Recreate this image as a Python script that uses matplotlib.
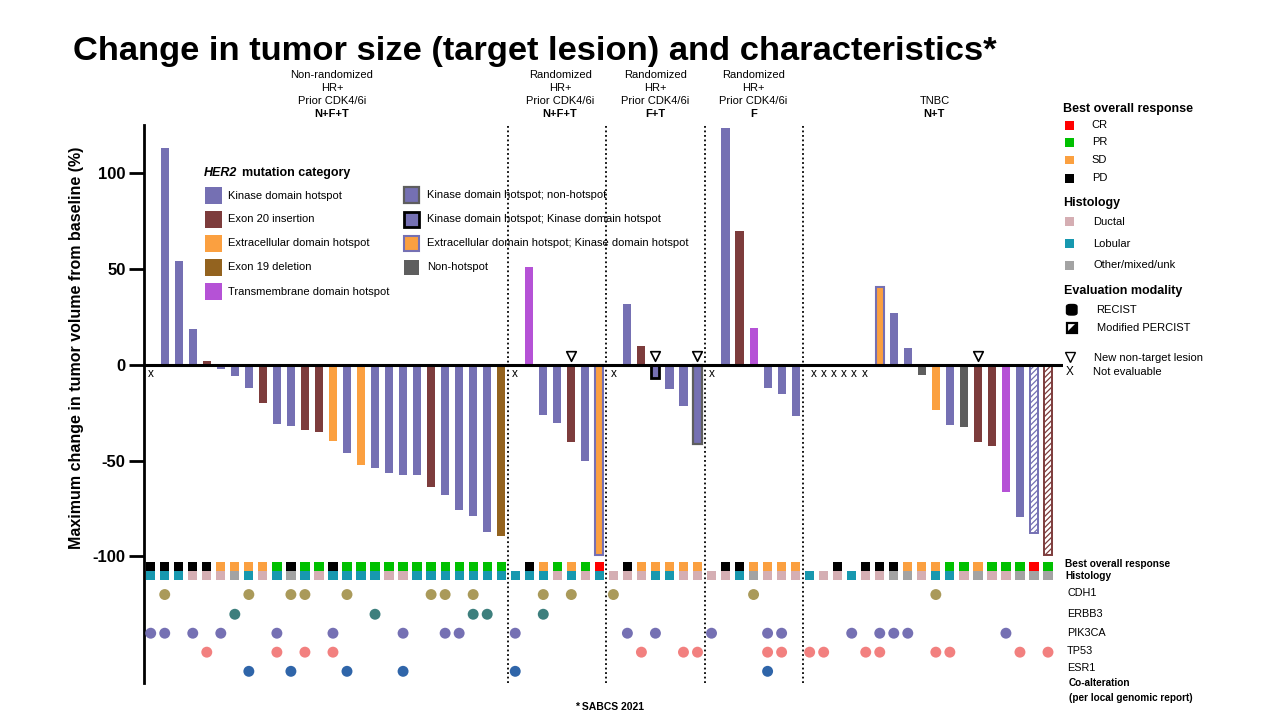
import numpy as np
import matplotlib
matplotlib.use('Agg')
import matplotlib.pyplot as plt
import matplotlib.transforms as mtransforms
from matplotlib.patches import Rectangle, Polygon, FancyBboxPatch
from matplotlib.lines import Line2D

plt.rcParams['font.family'] = ['Liberation Sans', 'DejaVu Sans']
plt.rcParams['hatch.linewidth'] = 0.9
NARROW = ['Liberation Sans Narrow', 'Liberation Sans', 'DejaVu Sans']

W, H = 1280, 720

# ---------------- data ----------------
group_sizes = [26, 7, 7, 7, 18]
group_headers = [
    ["Non-randomized", "HR+", "Prior CDK4/6i", "N+F+T"],
    ["Randomized", "HR+", "Prior CDK4/6i", "N+F+T"],
    ["Randomized", "HR+", "Prior CDK4/6i", "F+T"],
    ["Randomized", "HR+", "Prior CDK4/6i", "F"],
    ["TNBC", "N+T"],
]
nan = np.nan
change_g1 = [nan, 113.3, 54.3, 18.7, 2.0, -2.0, -6.0, -12.0, -20.0, -31.0, -32.0, -34.0, -35.0,
             -39.5, -46.0, -52.0, -54.0, -56.5, -57.5, -57.5, -63.5, -68.0, -75.5, -79.0, -87.5, -89.5]
change_g2 = [nan, 50.9, -26.4, -30.4, -40.3, -50.0, -99.5]
change_g3 = [nan, 31.8, 9.9, -6.6, -12.8, -21.7, -41.3]
change_g4 = [nan, 123.5, 70.0, 19.3, -11.8, -15.0, -26.9]
change_g5 = [nan, nan, nan, nan, nan, 40.5, 27.0, 8.9, -5.0, -23.3, -31.6, -32.6, -40.0, -42.5,
             -66.5, -79.5, -87.7, -99.5]
change = change_g1 + change_g2 + change_g3 + change_g4 + change_g5

category_g1 = ['', 'KD', 'KD', 'KD', 'E20', 'KD', 'KD', 'KD', 'E20', 'KD', 'KD', 'E20', 'E20',
               'ECD', 'KD', 'ECD', 'KD', 'KD', 'KD', 'KD', 'E20', 'KD', 'KD', 'KD', 'KD', 'E19']
category_g2 = ['', 'TM', 'KD', 'KD', 'E20', 'KD', 'ECD;KD']
category_g3 = ['', 'KD', 'E20', 'KD;KD', 'KD', 'KD', 'KD;NH']
category_g4 = ['', 'KD', 'E20', 'TM', 'KD', 'KD', 'KD']
category_g5 = ['', '', '', '', '', 'ECD;KD', 'KD', 'KD', 'NH', 'ECD', 'KD', 'NH', 'E20', 'E20',
               'TM', 'KD', 'KD', 'E20']
category = category_g1 + category_g2 + category_g3 + category_g4 + category_g5

percist_patients = [63, 64]          # Modified PERCIST evaluation (hatched)
new_lesion_patients = [30, 36, 39, 59]

response_g1 = ['PD', 'PD', 'PD', 'PD', 'PD', 'SD', 'SD', 'SD', 'SD', 'PR', 'PD', 'PR', 'PR', 'PD',
               'PR', 'PR', 'PR', 'PR', 'PR', 'PR', 'PR', 'PR', 'PR', 'PR', 'PR', 'PR']
response_g2 = ['', 'PD', 'SD', 'PR', 'SD', 'PR', 'CR']
response_g3 = ['', 'PD', 'SD', 'SD', 'SD', 'SD', 'SD']
response_g4 = ['', 'PD', 'PD', 'SD', 'SD', 'SD', 'SD']
response_g5 = ['', '', 'PD', '', 'PD', 'PD', 'PD', 'SD', 'SD', 'SD', 'PR', 'PR', 'SD', 'PR', 'PR',
               'PR', 'CR', 'PR']
response = response_g1 + response_g2 + response_g3 + response_g4 + response_g5

histology_g1 = ['L', 'L', 'L', 'D', 'D', 'D', 'O', 'L', 'D', 'L', 'O', 'L', 'D', 'L', 'L', 'L',
                'L', 'D', 'D', 'L', 'L', 'L', 'L', 'L', 'L', 'L']
histology_g2 = ['L', 'L', 'L', 'D', 'L', 'D', 'L']
histology_g3 = ['D', 'D', 'D', 'L', 'L', 'D', 'D']
histology_g4 = ['D', 'D', 'L', 'O', 'D', 'D', 'D']
histology_g5 = ['L', 'D', 'D', 'L', 'D', 'D', 'O', 'O', 'D', 'L', 'L', 'D', 'O', 'D', 'D', 'O',
                'O', 'O']
histology = histology_g1 + histology_g2 + histology_g3 + histology_g4 + histology_g5

genes = ['CDH1', 'ERBB3', 'PIK3CA', 'TP53', 'ESR1']
cdh1_patients = [1, 7, 10, 11, 14, 20, 21, 23, 28, 30, 33, 43, 56]
erbb3_patients = [6, 16, 23, 24, 28]
pik3ca_patients = [0, 1, 3, 5, 9, 13, 18, 21, 22, 26, 34, 36, 40, 44, 45, 50, 52, 53, 54, 61]
tp53_patients = [4, 9, 11, 13, 35, 38, 39, 44, 45, 47, 48, 51, 52, 56, 57, 62, 64]
esr1_patients = [7, 10, 14, 18, 26, 44]
gene_patients = [cdh1_patients, erbb3_patients, pik3ca_patients, tp53_patients, esr1_patients]

# ---------------- styles ----------------
PURPLE = '#7570B3'
BROWN = '#7D3C3C'
ORANGE = '#FBA040'
E19C = '#93631F'
TMC = '#B552D6'
GRAY = '#5E5E5E'
cat_style = {
    'KD': (PURPLE, 'none', 0),
    'E20': (BROWN, 'none', 0),
    'ECD': (ORANGE, 'none', 0),
    'E19': (E19C, 'none', 0),
    'TM': (TMC, 'none', 0),
    'KD;NH': (PURPLE, GRAY, 1.6),
    'KD;KD': (PURPLE, 'black', 2.0),
    'ECD;KD': (ORANGE, PURPLE, 1.5),
    'NH': (GRAY, 'none', 0),
}
cat_names = {
    'KD': 'Kinase domain hotspot', 'E20': 'Exon 20 insertion', 'ECD': 'Extracellular domain hotspot',
    'E19': 'Exon 19 deletion', 'TM': 'Transmembrane domain hotspot',
    'KD;NH': 'Kinase domain hotspot; non-hotspot', 'KD;KD': 'Kinase domain hotspot; Kinase domain hotspot',
    'ECD;KD': 'Extracellular domain hotspot; Kinase domain hotspot', 'NH': 'Non-hotspot',
}
resp_colors = {'CR': '#FF0000', 'PR': '#00C000', 'SD': ORANGE, 'PD': '#000000'}
resp_names = {'CR': 'CR', 'PR': 'PR', 'SD': 'SD', 'PD': 'PD'}
hist_colors = {'D': '#D5AEB3', 'L': '#1798AF', 'O': '#A3A3A3'}
hist_names = {'D': 'Ductal', 'L': 'Lobular', 'O': 'Other/mixed/unk'}
gene_colors = ['#AA9A5A', '#3D7F7D', '#7570B3', '#F2807F', '#2F65A9']

# ---------------- figure ----------------
fig = plt.figure(figsize=(12.8, 7.2), dpi=100)
ax = fig.add_axes([143.5 / W, 1 - 683 / H, (1063 - 143.5) / W, (683 - 125) / H])
n = len(change)
ax.set_xlim(-0.514, 65.07)
ax.set_ylim(-166.1, 125.3)
for s in ['top', 'right', 'bottom']:
    ax.spines[s].set_visible(False)
ax.spines['left'].set_linewidth(2)
ax.set_xticks([])
ax.set_yticks([-100, -50, 0, 50, 100])
ax.set_yticklabels(['-100', '-50', '0', '50', '100'], fontweight='bold')
ax.tick_params(axis='y', length=11, width=2, labelsize=12, pad=2)

BW = 0.58
for i in range(n):
    v = change[i]
    if np.isnan(v):
        continue
    face, edge, lw = cat_style[category[i]]
    if i in percist_patients:
        ax.bar(i, v, width=BW, facecolor='white', edgecolor=face, hatch='//////', linewidth=1.4, zorder=3)
    else:
        ax.bar(i, v, width=BW, color=face, edgecolor=edge, linewidth=lw, zorder=3)

ax.axhline(0, color='black', lw=2.2, zorder=5)

# separators
bounds = np.cumsum(group_sizes)[:-1]
for b in bounds:
    ax.axvline(b - 0.5, color='black', lw=1.3, ls=(0, (1.0, 1.5)), zorder=2)

# not evaluable markers
starts = np.concatenate([[0], bounds])
for st in starts[:4]:
    ax.text(st, -4.7, 'x', ha='center', va='center', fontsize=8.5, zorder=6)
for k in range(6):
    ax.text(47.27 + k * 0.727, -4.7, 'x', ha='center', va='center', fontsize=8.5, zorder=6)

# new lesion triangles
ax.scatter(new_lesion_patients, [4.8] * len(new_lesion_patients), marker='v', s=48,
           facecolor='white', edgecolor='black', linewidth=1.2, zorder=6)

# response & histology rows
SW = 0.66
for i in range(n):
    if response[i]:
        ax.bar(i, 4.9, bottom=-107.6, width=SW, color=resp_colors[response[i]], zorder=3)
    ax.bar(i, 4.7, bottom=-112.3, width=SW, color=hist_colors[histology[i]], zorder=3)

# co-alteration dots
row_y = [-119.9, -130.2, -140.1, -150.0, -160.0]
for pts, yv, c in zip(gene_patients, row_y, gene_colors):
    ax.scatter(pts, [yv] * len(pts), s=62, color=c, edgecolor='none', zorder=4)

# group headers
hdr_tr = mtransforms.blended_transform_factory(ax.transData, fig.transFigure)
header_x = [12.93, 29.2, 36.0, 43.0, 55.9]
line_y = [75, 88, 101, 114]
for hx, lines in zip(header_x, group_headers):
    ys = line_y[-len(lines):]
    for j, (t, yy) in enumerate(zip(lines, ys)):
        ax.text(hx, 1 - yy / H, t, ha='center', va='center', fontsize=8,
                fontweight='bold' if j == len(lines) - 1 else 'normal',
                transform=hdr_tr, clip_on=False)

# title & y-label & footer
fig.text(73 / W, 1 - 60 / H, 'Change in tumor size (target lesion) and characteristics*',
         fontsize=24.8, fontweight='bold', va='baseline', ha='left')
fig.text(77 / W, 1 - 348 / H, 'Maximum change in tumor volume from baseline (%)', rotation=90,
         ha='center', va='center', fontsize=11.5, fontweight='bold')
fig.text(610 / W, 1 - 707 / H, '* SABCS 2021', ha='center', va='center', fontsize=7.5, fontweight='bold')


def fig_rect(x0, y0, w, h, **kw):
    r = Rectangle((x0 / W, 1 - (y0 + h) / H), w / W, h / H, transform=fig.transFigure, **kw)
    fig.add_artist(r)
    return r


def ftext(x, y, s, **kw):
    kw.setdefault('va', 'center')
    kw.setdefault('ha', 'left')
    return fig.text(x / W, 1 - y / H, s, **kw)


# HER2 legend inside chart
ftext(204, 173, 'HER2', fontsize=9, fontweight='bold', style='italic')
ftext(241.5, 173, 'mutation category', fontsize=9, fontweight='bold')
col1 = ['KD', 'E20', 'ECD', 'E19', 'TM']
col1_y = [195.7, 219.3, 243.3, 267.3, 291.7]
for c, yy in zip(col1, col1_y):
    face, edge, lw = cat_style[c]
    fig_rect(205, yy - 8.5, 17, 17, facecolor=face, edgecolor='none')
    ftext(228.5, yy, cat_names[c], fontsize=8)
col2 = ['KD;NH', 'KD;KD', 'ECD;KD', 'NH']
col2_y = [195, 219.3, 243.3, 267.3]
for c, yy in zip(col2, col2_y):
    face, edge, lw = cat_style[c]
    fig_rect(403.5, yy - 7.7, 15.4, 15.4, facecolor=face, edgecolor=edge, linewidth=lw)
    ftext(427.3, yy, cat_names[c], fontsize=8)

# right legend
ftext(1063, 109, 'Best overall response', fontsize=9, fontweight='bold')
for k, yy in zip(['CR', 'PR', 'SD', 'PD'], [125.5, 142.3, 160, 178.3]):
    fig_rect(1064.5, yy - 4.3, 9, 8.6, facecolor=resp_colors[k], edgecolor='none')
    ftext(1091.7, yy, resp_names[k], fontsize=8)
ftext(1063, 202.7, 'Histology', fontsize=9, fontweight='bold')
for k, yy in zip(['D', 'L', 'O'], [221.7, 243.7, 265.3]):
    fig_rect(1064.5, yy - 4.3, 9, 8.6, facecolor=hist_colors[k], edgecolor='none')
    ftext(1093.3, yy, hist_names[k], fontsize=8)
ftext(1064, 291, 'Evaluation modality', fontsize=9, fontweight='bold')
fig.add_artist(FancyBboxPatch((1066.5 / W, 1 - 315 / H), 10.5 / W, 10.5 / H,
                              boxstyle='round,pad=0,rounding_size=0.003', transform=fig.transFigure,
                              facecolor='black', edgecolor='black'))
ftext(1096, 310, 'RECIST', fontsize=8)
fig_rect(1067, 323, 10, 10, facecolor='white', edgecolor='black', linewidth=1.6)
fig.add_artist(Polygon([(1067 / W, 1 - 333 / H), (1077 / W, 1 - 323 / H), (1077 / W, 1 - 333 / H)],
                       closed=True, transform=fig.transFigure, facecolor='black', edgecolor='black'))
ftext(1096.7, 328.3, 'Modified PERCIST', fontsize=8)
fig.add_artist(Line2D([1070 / W], [1 - 357 / H], marker='v', markersize=7, markerfacecolor='white',
                      markeredgecolor='black', markeredgewidth=1.0, transform=fig.transFigure))
ftext(1094.3, 358.3, 'New non-target lesion', fontsize=8)
ftext(1070, 372, 'X', fontsize=8.5, ha='center')
ftext(1093, 371.7, 'Not evaluable', fontsize=8)

# bottom-right row labels
ftext(1065, 564, 'Best overall response', fontsize=7.3, fontweight='bold', family=NARROW)
ftext(1065, 576, 'Histology', fontsize=7.3, fontweight='bold', family=NARROW)
for g, yy in zip(genes, [593.3, 614, 633.3, 651, 668.3]):
    ftext(1067, yy, g, fontsize=7.8, family=NARROW)
ftext(1069, 683.3, 'Co-alteration', fontsize=7.2, fontweight='bold', family=NARROW)
ftext(1069, 697.7, '(per local genomic report)', fontsize=7.2, fontweight='bold', family=NARROW)

fig.savefig('out.png', dpi=100)
